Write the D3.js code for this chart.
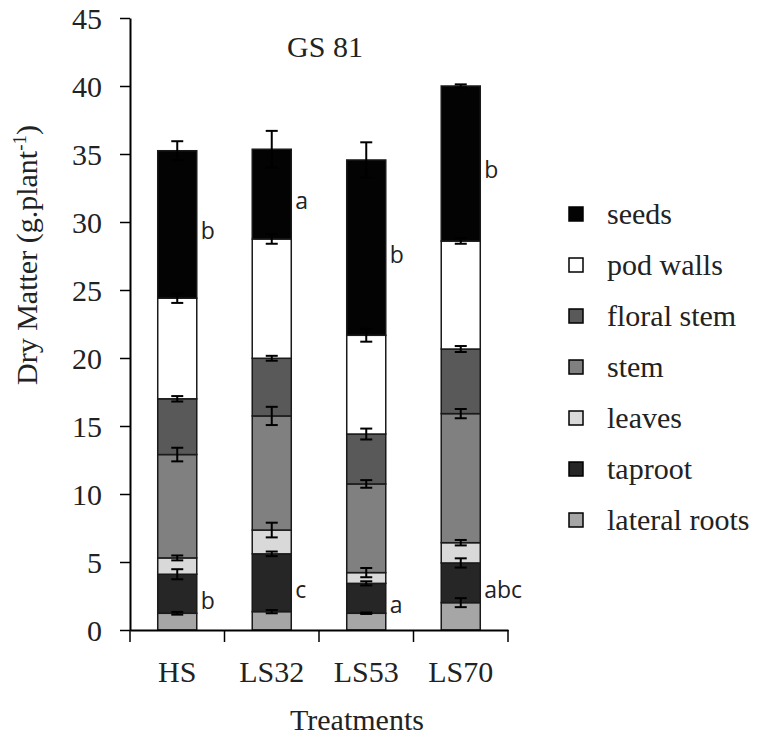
<!DOCTYPE html>
<html><head><meta charset="utf-8">
<script src="https://cdn.jsdelivr.net/npm/d3@7"></script>
<style>body{margin:0;background:#fff}</style>
</head><body>
<svg id="chart" width="758" height="740"></svg>
<script>
const categories = ["HS", "LS32", "LS53", "LS70"];
const seriesNames = ["lateral roots", "taproot", "leaves", "stem", "floral stem", "pod walls", "seeds"];
const seriesColors = ["#a6a6a6", "#262626", "#d9d9d9", "#808080", "#595959", "#ffffff", "#030303"];
// values (g per plant) per series, in category order
const lateralRoots = [1.23, 1.35, 1.23, 2.01];
const taproot      = [2.87, 4.25, 2.20, 2.92];
const leaves       = [1.20, 1.75, 0.79, 1.49];
const stem         = [7.60, 8.39, 6.52, 9.49];
const floralStem   = [4.10, 4.24, 3.67, 4.75];
const podWalls     = [7.40, 8.77, 7.26, 7.94];
const seeds        = [10.84, 6.60, 12.89, 11.40];
// standard errors per series
const errLateralRoots = [0.10, 0.12, 0.05, 0.33];
const errTaproot      = [0.37, 0.17, 0.15, 0.34];
const errLeaves       = [0.18, 0.54, 0.34, 0.20];
const errStem         = [0.50, 0.67, 0.28, 0.34];
const errFloralStem   = [0.20, 0.18, 0.40, 0.22];
const errPodWalls     = [0.35, 0.35, 0.47, 0.20];
const errSeeds        = [0.70, 1.35, 1.30, 0.12];
// significance letters
const seedsLetters   = ["b", "a", "b", "b"];
const taprootLetters = ["b", "c", "a", "abc"];
const yTicks = [0, 5, 10, 15, 20, 25, 30, 35, 40, 45];
const title = "GS 81";

const seriesValues = [lateralRoots, taproot, leaves, stem, floralStem, podWalls, seeds];
const seriesErrors = [errLateralRoots, errTaproot, errLeaves, errStem, errFloralStem, errPodWalls, errSeeds];

const svg = d3.select("#chart");
const serif = "'Liberation Serif','Times New Roman',serif";

const x = d3.scaleBand().domain(categories).range([130, 508]).paddingInner(0.587).paddingOuter(0.2935);
const y = d3.scaleLinear().domain([0, 45]).range([630, 18]);

// build stacked data
const rows = categories.map((c, i) => {
  const r = {cat: c};
  seriesNames.forEach((s, k) => r[s] = seriesValues[k][i]);
  return r;
});
const stack = d3.stack().keys(seriesNames)(rows);

// bars
const g = svg.append("g");
stack.forEach((layer, k) => {
  g.selectAll(null).data(layer).enter().append("rect")
    .attr("x", d => x(d.data.cat))
    .attr("width", x.bandwidth())
    .attr("y", d => y(d[1]))
    .attr("height", d => y(d[0]) - y(d[1]))
    .attr("fill", seriesColors[k])
    .attr("stroke", "#1a1a1a")
    .attr("stroke-width", 1.5);
});

// error bars
stack.forEach((layer, k) => {
  layer.forEach((d, i) => {
    const cx = x(d.data.cat) + x.bandwidth() / 2;
    const e = seriesErrors[k][i];
    const y1 = y(d[1] + e), y2 = y(d[1] - e);
    const eg = g.append("g").attr("stroke", "#000").attr("stroke-width", 2);
    eg.append("line").attr("x1", cx).attr("x2", cx).attr("y1", y1).attr("y2", y2);
    eg.append("line").attr("x1", cx - 6).attr("x2", cx + 6).attr("y1", y1).attr("y2", y1);
    eg.append("line").attr("x1", cx - 6).attr("x2", cx + 6).attr("y1", y2).attr("y2", y2);
  });
});

// letters
function addLetters(layerIndex, letters) {
  stack[layerIndex].forEach((d, i) => {
    svg.append("text")
      .attr("x", x(d.data.cat) + x.bandwidth() + 4)
      .attr("y", y((d[0] + d[1]) / 2))
      .attr("dy", "0.65em")
      .attr("font-family", "'Open Sans',sans-serif")
      .attr("font-size", 23)
      .attr("fill", "#222")
      .text(letters[i]);
  });
}
addLetters(6, seedsLetters);
addLetters(1, taprootLetters);

// y axis
const yAxis = svg.append("g").attr("transform", "translate(130,0)")
  .call(d3.axisLeft(y).tickValues(yTicks).tickSize(10).tickPadding(18).tickSizeOuter(0));
yAxis.select(".domain").attr("stroke", "#000").attr("stroke-width", 2);
yAxis.selectAll(".tick line").attr("stroke", "#000").attr("stroke-width", 1.5);
yAxis.selectAll(".tick text").attr("font-family", serif).attr("font-size", 30).attr("fill", "#222").attr("dy", "0.36em");

// x axis
const xAxis = svg.append("g").attr("transform", "translate(0,630)")
  .call(d3.axisBottom(x).tickSize(0).tickPadding(52).tickSizeOuter(0));
xAxis.select(".domain").attr("stroke", "#000").attr("stroke-width", 2);
xAxis.selectAll(".tick text").attr("font-family", serif).attr("font-size", 30).attr("fill", "#222").attr("dy", "0");
const step = x.step();
const bounds = categories.map(c => x(c) - (step - x.bandwidth()) / 2).concat([x(categories[categories.length - 1]) + x.bandwidth() + (step - x.bandwidth()) / 2]);
xAxis.selectAll(".bound").data(bounds).enter().append("line")
  .attr("x1", d => d).attr("x2", d => d).attr("y1", 0).attr("y2", 12)
  .attr("stroke", "#000").attr("stroke-width", 1.5);

// axis titles
svg.append("text").attr("x", 357).attr("y", 730).attr("text-anchor", "middle")
  .attr("font-family", serif).attr("font-size", 30).attr("fill", "#222").text("Treatments");
const yl = svg.append("text").attr("transform", "translate(37,255) rotate(-90)").attr("text-anchor", "middle")
  .attr("font-family", serif).attr("font-size", 30).attr("fill", "#222");
yl.append("tspan").text("Dry Matter (g.plant");
yl.append("tspan").attr("font-size", 19).attr("dy", -11).text("-1");
yl.append("tspan").attr("dy", 11).text(")");

// title
svg.append("text").attr("x", 325).attr("y", 57).attr("text-anchor", "middle")
  .attr("font-family", serif).attr("font-size", 30).attr("fill", "#222").text(title);

// legend
const legendOrder = seriesNames.map((s, k) => k).reverse();
legendOrder.forEach((k, j) => {
  const cy = 214 + j * 51;
  svg.append("rect").attr("x", 569).attr("y", cy - 7).attr("width", 14).attr("height", 14)
    .attr("fill", seriesColors[k]).attr("stroke", "#000").attr("stroke-width", 1.5);
  svg.append("text").attr("x", 607).attr("y", cy + 10)
    .attr("font-family", serif).attr("font-size", 30).attr("fill", "#222").text(seriesNames[k]);
});
</script>
</body></html>
